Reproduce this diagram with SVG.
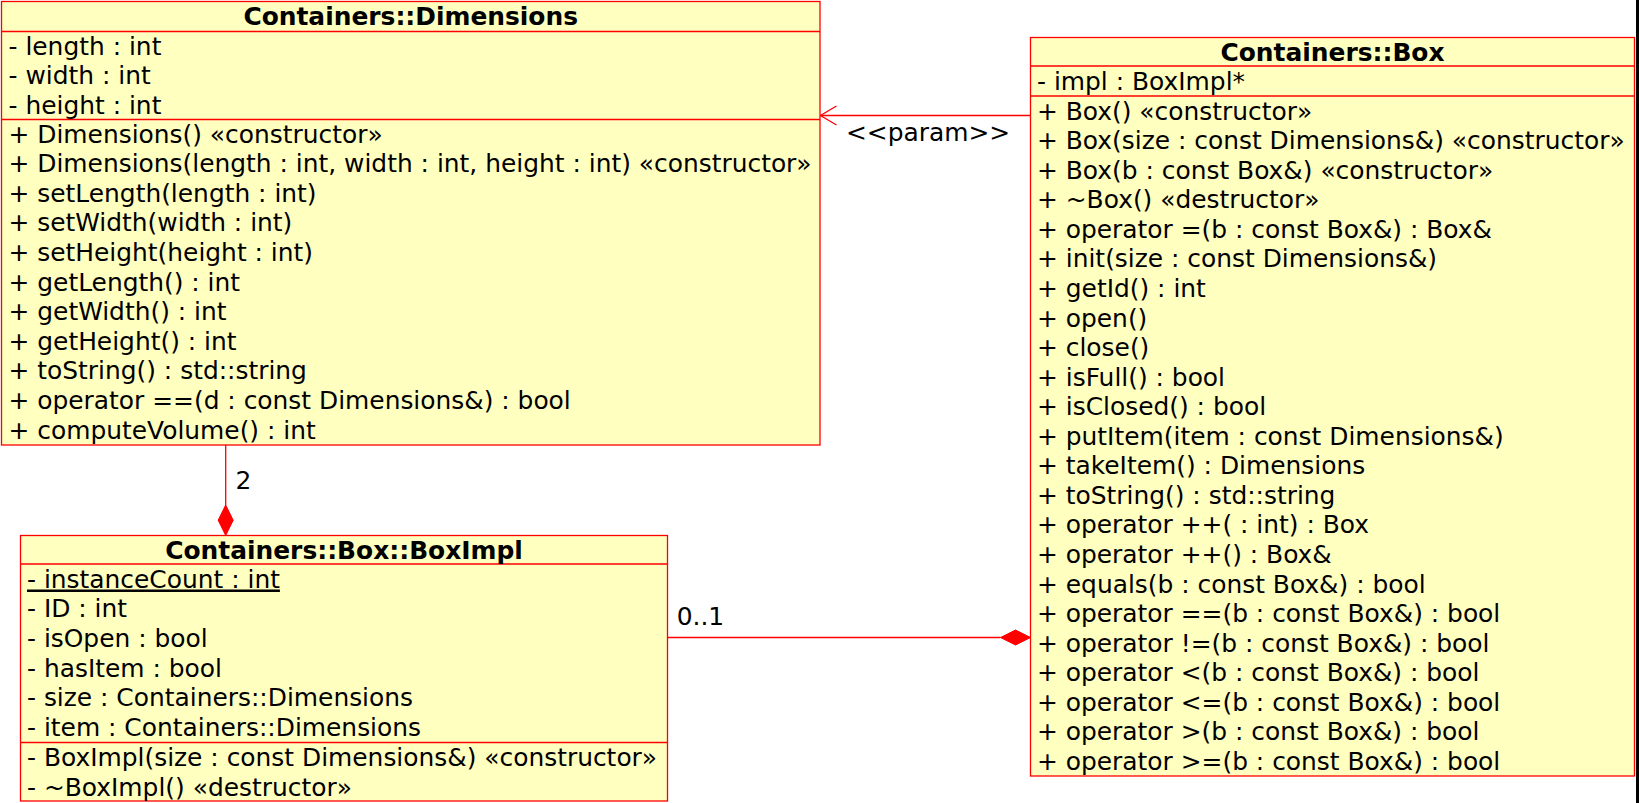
<svg xmlns="http://www.w3.org/2000/svg" width="1639" height="803" viewBox="0 0 1639 803">
<style>
.box{fill:#FFFFC0;stroke:#FF0000;stroke-width:1.3}
.sep{stroke:#FF0000;stroke-width:1.3}
.conn{stroke:#FF0000;stroke-width:1.3;fill:none}
.dia{fill:#FF0000;stroke:#FF0000;stroke-width:1}
text{font-family:"DejaVu Sans","Liberation Sans",sans-serif;font-size:24.9px;fill:#000}
.hd{font-weight:bold;text-anchor:middle}
</style>
<rect x="0" y="0" width="1639" height="803" fill="#FFFFFF"/>
<rect x="1636" y="0" width="3" height="803" fill="#000000"/>
<g id="connectors">
<line class="conn" x1="1030.5" y1="115.5" x2="820.5" y2="115.5"/>
<polyline class="conn" points="836.5,106 820.5,115.5 836.5,125"/>
<text x="846" y="141">&lt;&lt;param&gt;&gt;</text>
<line class="conn" x1="225.7" y1="445" x2="225.7" y2="505"/>
<polygon class="dia" points="225.7,505 233.2,520.2 225.7,535.5 218.2,520.2"/>
<text x="235.6" y="488.5">2</text>
<line class="conn" x1="667.5" y1="637.5" x2="1000.5" y2="637.5"/>
<polygon class="dia" points="1030.5,637.5 1015.5,645 1000.5,637.5 1015.5,630"/>
<text x="676.7" y="625">0..1</text>
</g>
<g id="dimensions">
<rect class="box" x="1.5" y="1.5" width="818.5" height="443.5"/>
<line class="sep" x1="1.5" y1="31.5" x2="820" y2="31.5"/>
<line class="sep" x1="1.5" y1="119.5" x2="820" y2="119.5"/>
<text class="hd" x="410.7" y="24.5">Containers::Dimensions</text>
<text x="8.5" y="54.5">- length : int</text>
<text x="8.5" y="84">- width : int</text>
<text x="8.5" y="113.5">- height : int</text>
<text x="8.5" y="142.5">+ Dimensions() «constructor»</text>
<text x="8.5" y="172.1">+ Dimensions(length : int, width : int, height : int) «constructor»</text>
<text x="8.5" y="201.7">+ setLength(length : int)</text>
<text x="8.5" y="231.3">+ setWidth(width : int)</text>
<text x="8.5" y="260.9">+ setHeight(height : int)</text>
<text x="8.5" y="290.5">+ getLength() : int</text>
<text x="8.5" y="320.1">+ getWidth() : int</text>
<text x="8.5" y="349.7">+ getHeight() : int</text>
<text x="8.5" y="379.3">+ toString() : std::string</text>
<text x="8.5" y="408.9">+ operator ==(d : const Dimensions&amp;) : bool</text>
<text x="8.5" y="438.5">+ computeVolume() : int</text>
</g>
<g id="box">
<rect class="box" x="1030.5" y="37.5" width="604" height="738.5"/>
<line class="sep" x1="1030.5" y1="66" x2="1634.5" y2="66"/>
<line class="sep" x1="1030.5" y1="96" x2="1634.5" y2="96"/>
<text class="hd" x="1332.5" y="60.5">Containers::Box</text>
<text x="1037" y="89.5">- impl : BoxImpl*</text>
<text x="1037" y="119.5">+ Box() «constructor»</text>
<text x="1037" y="149.1">+ Box(size : const Dimensions&amp;) «constructor»</text>
<text x="1037" y="178.6">+ Box(b : const Box&amp;) «constructor»</text>
<text x="1037" y="208.2">+ ~Box() «destructor»</text>
<text x="1037" y="237.8">+ operator =(b : const Box&amp;) : Box&amp;</text>
<text x="1037" y="267.3">+ init(size : const Dimensions&amp;)</text>
<text x="1037" y="296.9">+ getId() : int</text>
<text x="1037" y="326.5">+ open()</text>
<text x="1037" y="356">+ close()</text>
<text x="1037" y="385.6">+ isFull() : bool</text>
<text x="1037" y="415.2">+ isClosed() : bool</text>
<text x="1037" y="444.7">+ putItem(item : const Dimensions&amp;)</text>
<text x="1037" y="474.3">+ takeItem() : Dimensions</text>
<text x="1037" y="503.8">+ toString() : std::string</text>
<text x="1037" y="533.4">+ operator ++( : int) : Box</text>
<text x="1037" y="563">+ operator ++() : Box&amp;</text>
<text x="1037" y="592.5">+ equals(b : const Box&amp;) : bool</text>
<text x="1037" y="622.1">+ operator ==(b : const Box&amp;) : bool</text>
<text x="1037" y="651.7">+ operator !=(b : const Box&amp;) : bool</text>
<text x="1037" y="681.2">+ operator &lt;(b : const Box&amp;) : bool</text>
<text x="1037" y="710.8">+ operator &lt;=(b : const Box&amp;) : bool</text>
<text x="1037" y="740.4">+ operator &gt;(b : const Box&amp;) : bool</text>
<text x="1037" y="769.9">+ operator &gt;=(b : const Box&amp;) : bool</text>
</g>
<g id="boximpl">
<rect class="box" x="20.5" y="535.5" width="647" height="265.5"/>
<line class="sep" x1="20.5" y1="564" x2="667.5" y2="564"/>
<line class="sep" x1="20.5" y1="742.5" x2="667.5" y2="742.5"/>
<text class="hd" x="344" y="558.5">Containers::Box::BoxImpl</text>
<text x="27" y="587.5" text-decoration="underline">- instanceCount : int</text>
<text x="27" y="617.2">- ID : int</text>
<text x="27" y="646.9">- isOpen : bool</text>
<text x="27" y="676.6">- hasItem : bool</text>
<text x="27" y="706.3">- size : Containers::Dimensions</text>
<text x="27" y="736">- item : Containers::Dimensions</text>
<text x="27" y="766">- BoxImpl(size : const Dimensions&amp;) «constructor»</text>
<text x="27" y="795.5">- ~BoxImpl() «destructor»</text>
</g>
</svg>
